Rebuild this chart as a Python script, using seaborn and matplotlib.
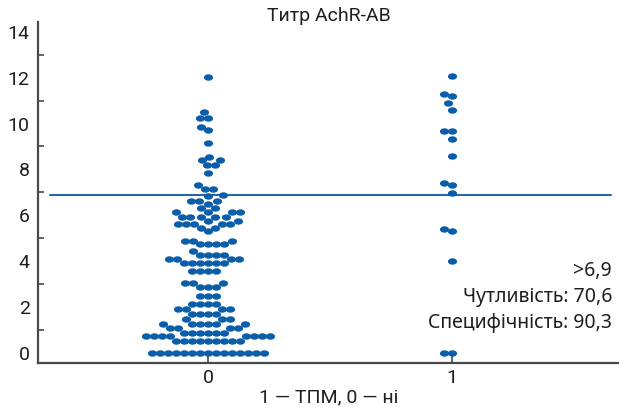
import numpy as np
import pandas as pd
import matplotlib
matplotlib.use("Agg")
import matplotlib.pyplot as plt
from matplotlib.markers import MarkerStyle
from matplotlib.transforms import Affine2D
from matplotlib.ticker import MultipleLocator
import seaborn as sns

# ---- data ----
group_labels = [0, 1]
titer_group0 = [
    12.02, 10.52, 10.23, 10.23, 9.84, 9.73, 9.16, 8.56, 8.43, 8.43, 8.17, 8.17,
    7.84, 7.33, 7.15, 7.15,
    6.88, 6.85,
    6.64, 6.64, 6.64, 6.5, 6.32, 6.32,
    6.15, 6.15, 6.15, 6.15,
    5.93, 5.93, 5.93, 5.93, 5.93,
    5.75, 5.75,
    5.63, 5.63, 5.63, 5.63, 5.63,
    5.45, 5.45, 5.32,
    4.88, 4.88, 4.88,
    4.75, 4.75, 4.75, 4.75,
    4.45,
    4.27, 4.27, 4.27, 4.27,
    4.1, 4.1, 4.1, 4.1,
    3.92, 3.92, 3.92, 3.92, 3.92, 3.92,
    3.58, 3.58, 3.58, 3.58,
    3.02, 3.02, 3.02,
    2.85, 2.85, 2.85,
    2.49, 2.49, 2.49,
    2.14, 2.14, 2.14, 2.14,
    1.92, 1.92, 1.92, 1.92,
    1.70, 1.70, 1.70, 1.70,
    1.48, 1.48, 1.48,
    1.26, 1.26, 1.26, 1.26, 1.26, 1.26,
    1.08, 1.08, 1.08, 1.08,
    0.87, 0.87, 0.87, 0.87, 0.87, 0.87,
    0.74, 0.74, 0.74, 0.74, 0.74, 0.74, 0.74, 0.74,
    0.52, 0.52, 0.52, 0.52, 0.52, 0.52, 0.52, 0.52, 0.52,
] + [0.0] * 15
titer_group1 = [12.09, 11.28, 11.2, 10.89, 10.6, 9.68, 9.68, 9.32, 8.58,
                7.4, 7.33, 6.96, 5.4, 5.32, 4.0, 0.0, 0.0]
threshold = 6.9
title_text = "Титр AchR-AB"
xlabel_text = "1 — ТПМ, 0 — ні"
stats_lines = [">6,9", "Чутливість: 70,6", "Специфічність: 90,3"]
stats_y = [3.58, 2.44, 1.31]

df = pd.DataFrame({
    "group": [0] * len(titer_group0) + [1] * len(titer_group1),
    "titer": titer_group0 + titer_group1,
})

# ---- styling ----
sns.set_style("white")
plt.rcParams["font.family"] = ["Roboto", "DejaVu Sans"]

dot_color = "#0a5da9"
line_color = "#2767a9"
spine_color = "#4a4a4a"
text_color = "#1e1e1e"

# oval dot: drawn a little wider than the spacing footprint used by the swarm
oval = MarkerStyle("o", transform=Affine2D().scale(1.2, 0.84))

fig = plt.figure(figsize=(6.19, 4.12), dpi=100)
ax = fig.add_axes([38 / 619, 1 - 363 / 412, 1 - 38 / 619, (363 - 22) / 412])

sns.swarmplot(data=df, x="group", y="titer", order=group_labels,
              color=dot_color, marker=oval, size=5.5, linewidth=0,
              ax=ax, warn_thresh=1.0)

ax.set_xlim(-0.697, 1.684)
ax.set_ylim(-0.45, 14.43)

ax.axhline(threshold, xmin=0.02, xmax=0.986, color=line_color, lw=1.5, zorder=0)

ax.yaxis.set_major_locator(MultipleLocator(2))
ax.yaxis.set_minor_locator(MultipleLocator(1))
ax.tick_params(axis="y", which="major", direction="in", length=7, width=1.2,
               color=spine_color, labelsize=14, labelcolor=text_color, pad=6)
ax.tick_params(axis="y", which="minor", direction="in", length=4, width=1.2,
               color=spine_color, left=True)
ax.tick_params(axis="x", which="major", direction="in", length=7, width=1.2,
               color=spine_color, labelsize=14, labelcolor=text_color, pad=4,
               bottom=True)

for side in ["top", "right"]:
    ax.spines[side].set_visible(False)
for side in ["left", "bottom"]:
    ax.spines[side].set_color(spine_color)
    ax.spines[side].set_linewidth(1.6)

ax.set_ylabel("")
ax.set_xlabel(xlabel_text, fontsize=14, color=text_color, labelpad=1)
ax.set_title(title_text, fontsize=14, color=text_color, pad=1)

ytrans = ax.get_yaxis_transform()
for txt, yv in zip(stats_lines, stats_y):
    ax.text(0.988, yv, txt, transform=ytrans, ha="right", va="center",
            fontsize=14, color=text_color, family=["Noto Sans", "DejaVu Sans"])

fig.savefig("out.png", dpi=100)
